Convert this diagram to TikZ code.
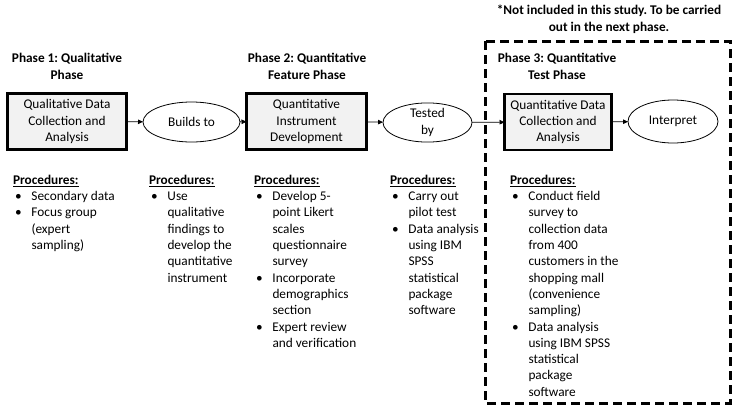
\documentclass[tikz,border=0pt]{standalone}
\usepackage{fontspec}
\setmainfont{Carlito}
\usetikzlibrary{arrows.meta,shapes.geometric}
\frenchspacing

% bullet and hanging indent for the procedure lists
\newcommand{\pbul}{\makebox[18.5pt][l]{\hspace{2pt}\textbullet}}
\newcommand{\pind}{\hspace*{18.5pt}}
\newcommand{\phead}{\underline{\textbf{Procedures:}}}

\tikzset{
  every node/.style={font=\fontsize{13.3}{16.3}\selectfont, inner sep=0pt, outer sep=0pt},
  stage/.style={draw, line width=2.6pt, fill=black!5, align=center, minimum height=56pt},
  link/.style={draw, ellipse, line width=0.8pt, align=center},
  title/.style={font=\fontsize{13.3}{16.8}\selectfont\bfseries, align=center},
  proc/.style={align=left, anchor=north west},
  flow/.style={-{Triangle[length=5pt,width=4.5pt]}, line width=0.8pt},
  frame/.style={line width=3pt, dash pattern=on 9pt off 5pt},
}

\begin{document}
\begin{tikzpicture}[x=1pt,y=-1pt]
\useasboundingbox (0,0) rectangle (733,410);

% note above the third phase
\node[title] (note) at (609,19) {*Not included in this study. To be carried\\out in the next phase.};

% phase titles
\node[title] (t1) at (67,66.5) {Phase 1: Qualitative\\Phase};
\node[title] (t2) at (307,66.5) {Phase 2: Quantitative\\Feature Phase};
\node[title] (t3) at (557,66.5) {Phase 3: Quantitative\\Test Phase};

% main flow
\node[stage, minimum width=119pt] (b1) at (67,121.5) {Qualitative Data\\Collection and\\Analysis};
\node[link, minimum width=97pt, minimum height=40pt] (e1) at (191.5,122) {Builds to};
\node[stage, minimum width=120pt] (b2) at (306.5,121.5) {Quantitative\\Instrument\\Development};
\node[link, minimum width=89pt, minimum height=39pt] (e2) at (427.5,122.5) {Tested\\by};
\node[stage, minimum width=107pt] (b3) at (558,122) {Quantitative Data\\Collection and\\Analysis};
\node[link, minimum width=90pt, minimum height=43pt] (e3) at (673,121.5) {Interpret};

\draw[flow] (b1) -- (e1);
\draw[flow] (e1) -- (b2);
\draw[flow] (b2) -- (e2);
\draw[flow] (e2) -- (b3);
\draw[flow] (b3) -- (e3);

% dashed frame round the third phase
\draw[frame] (485,41) rectangle (730,403);

% procedures under each step
\node[proc] (p1) at (13,175) {\phead\\
\pbul Secondary data\\
\pbul Focus group\\
\pind(expert\\
\pind sampling)};

\node[proc] (p2) at (149,175) {\phead\\
\pbul Use\\
\pind qualitative\\
\pind findings to\\
\pind develop the\\
\pind quantitative\\
\pind instrument};

\node[proc] (p3) at (254,175) {\phead\\
\pbul Develop 5-\\
\pind point Likert\\
\pind scales\\
\pind questionnaire\\
\pind survey\\
\pbul Incorporate\\
\pind demographics\\
\pind section\\
\pbul Expert review\\
\pind and verification};

\node[proc] (p4) at (390,175) {\phead\\
\pbul Carry out\\
\pind pilot test\\
\pbul Data analysis\\
\pind using IBM\\
\pind SPSS\\
\pind statistical\\
\pind package\\
\pind software};

\node[proc] (p5) at (510,175) {\phead\\
\pbul Conduct field\\
\pind survey to\\
\pind collection data\\
\pind from 400\\
\pind customers in the\\
\pind shopping mall\\
\pind (convenience\\
\pind sampling)\\
\pbul Data analysis\\
\pind using IBM SPSS\\
\pind statistical\\
\pind package\\
\pind software};
\end{tikzpicture}
\end{document}
